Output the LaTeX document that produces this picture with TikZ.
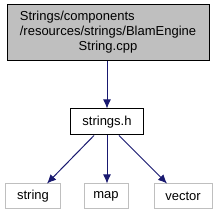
\documentclass[tikz,border=0pt]{standalone}
\usepackage{fontspec}
\setmainfont{Liberation Sans}
\usepackage{tikz}
\usetikzlibrary{arrows.meta}

\definecolor{edgeblue}{HTML}{191970}
\definecolor{boxgrey}{HTML}{BFBFBF}

\tikzset{
  filebox/.style={draw=black, line width=1pt, inner sep=0pt, font=\fontsize{13}{15}\selectfont},
  sysbox/.style={draw=boxgrey, line width=1pt, fill=white, inner sep=0pt, minimum height=25pt, font=\fontsize{13}{15}\selectfont},
  dep/.style={draw=edgeblue, line width=1pt, -{Latex[length=9pt,width=8pt]}}
}

\begin{document}
\begin{tikzpicture}[x=1pt,y=-1pt]
    \useasboundingbox (0,0) rectangle (217,216);

    % file and its include
    \node[filebox, fill=boxgrey, minimum width=202pt, minimum height=56pt] (cpp) at (108,33)
        {\begin{tabular}{@{}l@{}}Strings/components\\/resources/strings/BlamEngine\\\multicolumn{1}{@{}c@{}}{String.cpp}\end{tabular}};
    \node[filebox, fill=white, minimum width=73pt, minimum height=26pt] (strings) at (107,122) {strings.h};

    % system headers
    \node[sysbox, minimum width=55pt] (string) at (33,196.5) {string};
    \node[sysbox, minimum width=44pt] (map) at (106,196.5) {map};
    \node[sysbox, minimum width=58pt] (vector) at (183,196.5) {vector};

    \draw[dep] (cpp.south -| strings.north) -- (strings.north);
    \draw[dep] (strings.south) ++(-13,0) coordinate (s1) -- (string.north -| 47,0);
    \draw[dep] (strings) (strings.south) -- (map.north -| strings.south);
    \draw[dep] (strings.south) ++(12,0) coordinate (s3) -- (vector.north -| 167,0);
\end{tikzpicture}
\end{document}
